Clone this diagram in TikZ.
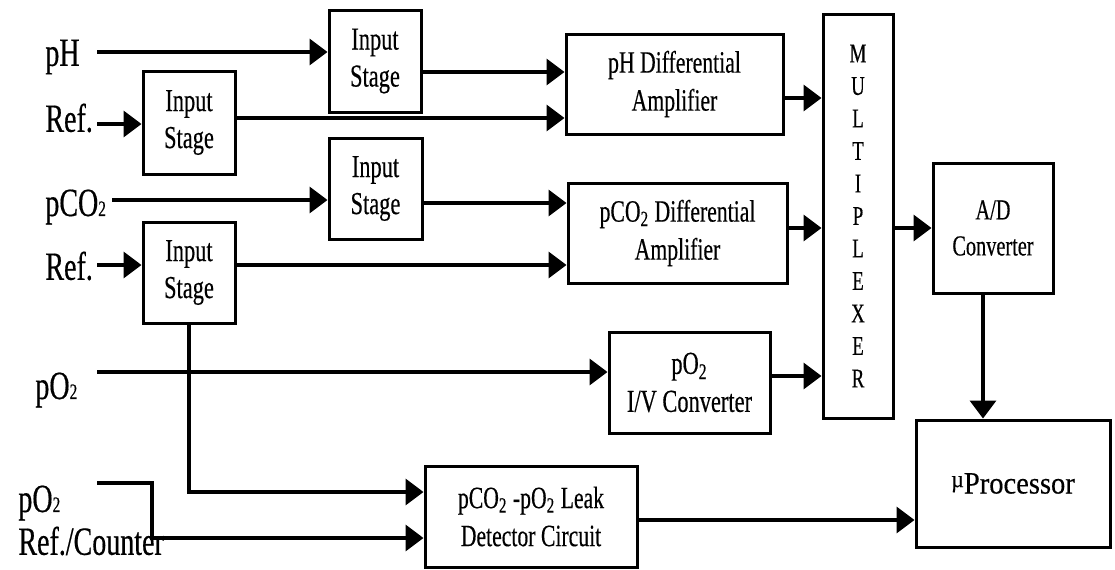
\documentclass[tikz,border=0pt]{standalone}
\usepackage{fontspec}
\setmainfont{Liberation Serif}[FakeStretch=0.7,FakeBold=0.4]
\newfontfamily\procfont{Liberation Serif}[FakeStretch=0.92,FakeBold=0.4]
\usetikzlibrary{arrows.meta}

\begin{document}
\begin{tikzpicture}[x=0.5pt,y=-0.5pt]
  \tikzset{blockbox/.style={draw=black,line width=1.5pt,inner sep=0pt,align=center,font=\fontsize{16}{18.5}\selectfont}}
  \tikzset{sigline/.style={draw=black,line width=1.8pt,-{Triangle[length=9pt,width=13pt]}}}
  \tikzset{inlabel/.style={anchor=west,inner sep=0pt,font=\fontsize{20}{24}\selectfont}}

  \useasboundingbox (0,0) rectangle (1115,569);

  \node[inlabel] (inph)   at (45,57)  {pH};
  \node[inlabel] (inrefa) at (45,118) {Ref.};
  \node[inlabel] (inco)   at (45,207) {pCO{\fontsize{11}{11}\selectfont 2}};
  \node[inlabel] (inrefb) at (45,266) {Ref.};
  \node[inlabel] (inpoa)  at (35,390) {pO{\fontsize{11}{11}\selectfont 2}};
  \node[inlabel] (inpob)  at (18,503) {pO{\fontsize{11}{11}\selectfont 2}};
  \node[inlabel] (incnt)  at (18,541) {Ref./Counter};

  \node[blockbox,minimum width=46pt,minimum height=51pt]     (isph)   at (375,61)     {Input\\Stage};
  \node[blockbox,minimum width=46pt,minimum height=51.5pt]   (isrefa) at (189,122.5)  {Input\\Stage};
  \node[blockbox,minimum width=46.5pt,minimum height=50.5pt] (isco)   at (375.5,188.5) {Input\\Stage};
  \node[blockbox,minimum width=46pt,minimum height=50.5pt]   (isrefb) at (189,272.5)  {Input\\Stage};

  \node[blockbox,minimum width=108.5pt,minimum height=50pt,font=\fontsize{15.5}{19}\selectfont] (phamp) at (674.5,84) {pH Differential\\Amplifier};
  \node[blockbox,minimum width=109.5pt,minimum height=50pt,font=\fontsize{15.5}{19}\selectfont] (coamp) at (677.5,233) {pCO\textsubscript{2} Differential\\Amplifier};
  \node[blockbox,minimum width=80.5pt,minimum height=50.5pt,font=\fontsize{16}{19}\selectfont] (ivc) at (689.5,382.5) {pO\textsubscript{2}\\I/V Converter};
  \node[blockbox,minimum width=106pt,minimum height=50.5pt,font=\fontsize{15.5}{19}\selectfont] (leak) at (531,516.5) {pCO\textsubscript{2} -pO\textsubscript{2} Leak\\Detector Circuit};

  \node[blockbox,minimum width=35pt,minimum height=202pt,font=\fontsize{13.5}{16.25}\selectfont] (mux) at (858,216) {M\\U\\L\\T\\I\\P\\L\\E\\X\\E\\R};
  \node[blockbox,minimum width=60pt,minimum height=65pt,font=\fontsize{14.5}{18}\selectfont] (adc) at (993,228) {A/D\\Converter};
  \node[blockbox,minimum width=97pt,minimum height=63.5pt,font=\procfont\fontsize{15.5}{18}\selectfont] (mup) at (1013,483.5) {\raisebox{0.45ex}{\fontsize{12}{12}\selectfont µ}Processor};

  \coordinate (sph)  at (97,52);
  \coordinate (sra)  at (97,124);
  \coordinate (sco)  at (112,200);
  \coordinate (srb)  at (97,265);
  \coordinate (spoa) at (97,372);
  \coordinate (spob) at (97,483);
  \coordinate (jct)  at (152,538);

  \draw[sigline] (sph) -- (sph -| isph.west);
  \draw[sigline] (sra) -- (sra -| isrefa.west);
  \draw[sigline] (sco) -- (sco -| isco.west);
  \draw[sigline] (srb) -- (srb -| isrefb.west);

  \draw[sigline] (isph.east |- 0,72) -- (phamp.west |- 0,72);
  \draw[sigline] (isrefa.east |- 0,118) -- (phamp.west |- 0,118);
  \draw[sigline] (isco.east |- 0,203) -- (coamp.west |- 0,203);
  \draw[sigline] (isrefb.east |- 0,265) -- (coamp.west |- 0,265);

  \draw[sigline] (phamp.east |- 0,98) -- (mux.west |- 0,98);
  \draw[sigline] (coamp.east |- 0,228) -- (mux.west |- 0,228);
  \draw[sigline] (spoa) -- (spoa -| ivc.west);
  \draw[sigline] (ivc.east |- 0,376) -- (mux.west |- 0,376);
  \draw[sigline] (mux.east |- adc.west) -- (adc.west);
  \draw[sigline] ([xshift=-5pt]adc.south) -- ([xshift=-5pt]adc.south |- mup.north);

  \draw[sigline] (isrefb.south) |- (leak.west |- 0,492);
  \draw[sigline] (spob) -| (jct) -- (jct -| leak.west);
  \draw[sigline] (leak.east |- 0,520) -- (mup.west |- 0,520);
\end{tikzpicture}
\end{document}
